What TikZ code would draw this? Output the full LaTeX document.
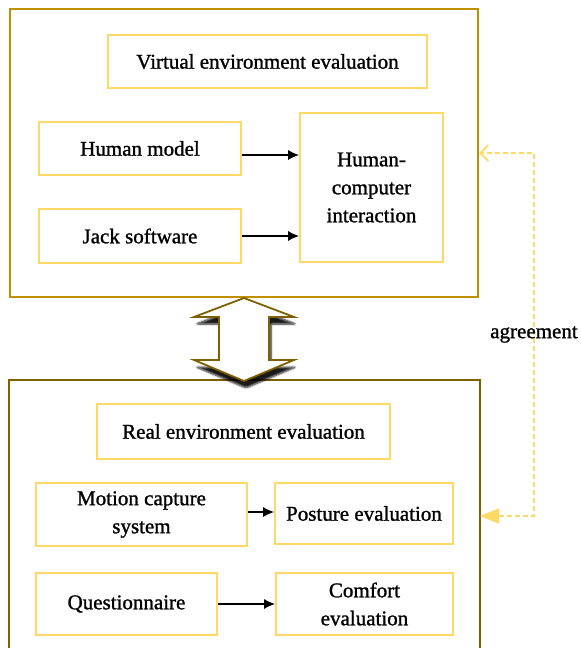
\documentclass[tikz,border=0pt]{standalone}
\usepackage{fontspec}
\setmainfont{Liberation Serif}[FakeBold=1.2]
\usetikzlibrary{arrows.meta, shadows.blur}

\definecolor{frameGold}{HTML}{BF9000}
\definecolor{frameOlive}{HTML}{7F6000}
\definecolor{boxYellow}{HTML}{FFD966}

\begin{document}
\begin{tikzpicture}[
    x=1pt, y=-1pt,
    box/.style={rectangle, draw=boxYellow, line width=1.8pt, align=center, inner sep=2pt, font=\fontsize{21}{28}\selectfont},
    frame/.style={rectangle, line width=2.2pt, fill=none},
    arrow/.style={line width=1.2pt, -{Latex[length=11pt, width=10pt]}},
    agree/.style={draw=boxYellow, line width=1.8pt, dash pattern=on 5pt off 3pt}
]
\useasboundingbox (0,0) rectangle (581,648);

% outer frames
\node[frame, draw=frameGold, minimum width=468, minimum height=288] (virframe) at (244,153) {};
\node[frame, draw=frameOlive, minimum width=471, minimum height=300] (realframe) at (244.5,530) {};

% virtual environment
\node[box, minimum width=319, minimum height=53] (virtual) at (267.5,61.5) {Virtual environment evaluation};
\node[box, minimum width=202, minimum height=53] (human) at (140,148.5) {Human model};
\node[box, minimum width=202, minimum height=54] (jack) at (140,236) {Jack software};
\node[box, minimum width=143, minimum height=149] (hci) at (371.5,187.5) {Human-\\computer\\interaction};

% real environment
\node[box, minimum width=293, minimum height=55] (real) at (243.5,431.5) {Real environment evaluation};
\node[box, minimum width=211, minimum height=63] (motion) at (141.5,514.5) {Motion capture\\system};
\node[box, minimum width=178, minimum height=61] (posture) at (364,513.5) {Posture evaluation};
\node[box, minimum width=181, minimum height=62] (quest) at (126.5,604) {Questionnaire};
\node[box, minimum width=177, minimum height=62] (comfort) at (364.5,604) {Comfort\\evaluation};

\draw[arrow] (human.east |- 0,155) -- (hci.west |- 0,155);
\draw[arrow] (jack.east |- 0,236) -- (hci.west |- 0,236);
\draw[arrow] (motion.east |- 0,512) -- (posture.west |- 0,512);
\draw[arrow] (quest) -- (comfort.west |- quest);

% double arrow between the two frames
\filldraw[draw=frameOlive, fill=white, line width=1.8pt, line join=miter,
    blur shadow={shadow xshift=2pt, shadow yshift=-7pt, shadow blur steps=6, shadow blur extra rounding=2pt, shadow opacity=90}]
    (244,298) -- (294,317) -- (269,317) -- (269,360) -- (294,360) -- (244,381)
    -- (194,360) -- (219,360) -- (219,317) -- (194,317) -- cycle;

% agreement link
\coordinate (agreeend) at (480,516);
\draw[agree, {Triangle[length=19pt, width=15pt]}-{Straight Barb[length=8pt, width=16pt, line width=1.8pt]}]
    (agreeend) -- (534,516) -- node[font=\fontsize{21}{28}\selectfont] {agreement} (534,153) -- (virframe.east);

\end{tikzpicture}
\end{document}
